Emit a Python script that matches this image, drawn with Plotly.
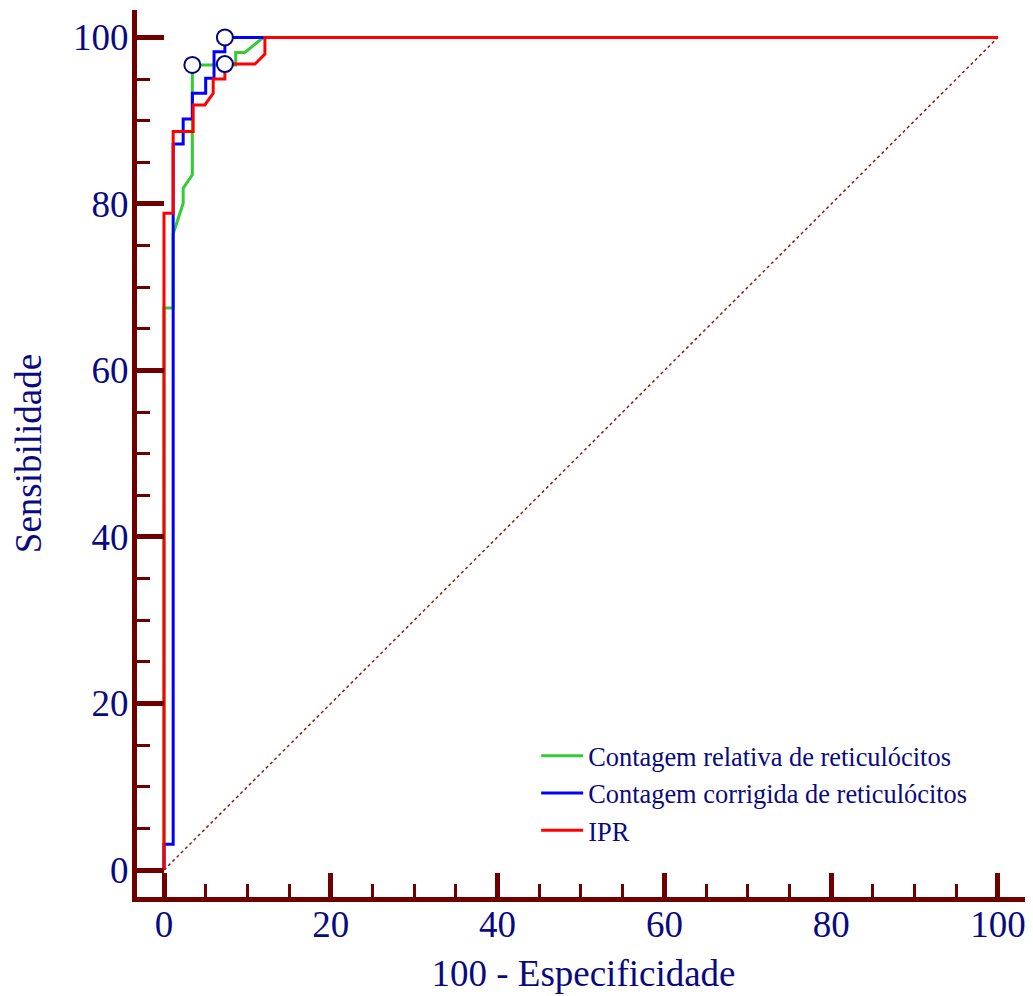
import plotly.graph_objects as go

# ---- data ----
green_name = "Contagem relativa de reticulócitos"
green_x = [0, 0, 1.1, 1.1, 2.3, 2.3, 3.4, 3.4, 8.6, 8.6, 9.7, 11.9, 100]
green_y = [0, 67.5, 67.5, 76.4, 80.1, 81.9, 83.5, 96.7, 96.7, 98.2, 98.2, 100, 100]

blue_name = "Contagem corrigida de reticulócitos"
blue_x = [0, 0, 1.1, 1.1, 2.3, 2.3, 3.4, 3.4, 5.0, 5.0, 6.0, 6.0, 7.3, 7.3, 100]
blue_y = [0, 3.1, 3.1, 87.2, 87.2, 90.2, 90.2, 93.3, 93.3, 95.1, 95.1, 98.3, 98.3, 100, 100]

red_name = "IPR"
red_x = [0, 0, 1.1, 1.1, 3.5, 3.5, 4.9, 5.9, 5.9, 7.3, 7.3, 10.9, 12.1, 12.1, 100]
red_y = [0, 78.9, 78.9, 88.7, 88.7, 91.9, 91.9, 93.3, 95.0, 95.0, 96.8, 96.8, 98.0, 100, 100]

# optimal cut-off points (green, blue, red)
opt_x = [3.4, 7.3, 7.3]
opt_y = [96.7, 100, 96.8]

diag_x = [0, 100]
diag_y = [0, 100]

x_title = "100 - Especificidade"
y_title = "Sensibilidade"

# ---- styling ----
AXC = "#6e0000"
TXT = "#0a0a80"
FONT = "Liberation Serif"

fig = go.Figure()
fig.add_trace(go.Scatter(x=diag_x, y=diag_y, mode="lines", showlegend=False,
                         line=dict(color="#8b1a1a", width=1.5, dash="dot"), hoverinfo="skip"))
fig.add_trace(go.Scatter(x=green_x, y=green_y, mode="lines", name=green_name,
                         line=dict(color="#33cc33", width=3)))
fig.add_trace(go.Scatter(x=blue_x, y=blue_y, mode="lines", name=blue_name,
                         line=dict(color="#0000ff", width=3)))
fig.add_trace(go.Scatter(x=red_x, y=red_y, mode="lines", name=red_name,
                         line=dict(color="#ff0000", width=3)))
fig.add_trace(go.Scatter(x=opt_x, y=opt_y, mode="markers", showlegend=False,
                         marker=dict(symbol="circle", size=16, color="white",
                                     line=dict(color="#000080", width=2))))

axis_common = dict(
    showgrid=False, zeroline=False, showline=True, linecolor=AXC, linewidth=5,
    ticks="inside", tickcolor=AXC, tickwidth=5, tick0=0, dtick=20,
    tickfont=dict(family=FONT, size=37, color=TXT),
    minor=dict(ticks="inside", tickcolor=AXC, tickwidth=3, ticklen=13, tick0=0, dtick=5),
)

fig.update_xaxes(**axis_common, range=[-3.237, 103.84], ticklen=24, ticklabelstandoff=-9,
                 title=dict(text=x_title, font=dict(family=FONT, size=37, color=TXT), standoff=17))
fig.update_yaxes(**axis_common, range=[-3.243, 103.30], ticklen=27, ticklabelstandoff=-4,
                 title=dict(text=y_title, font=dict(family=FONT, size=37, color=TXT), standoff=24))

# page body has an 8px margin: figure is sized/offset so the plot lands at the reference position
fig.update_layout(
    width=1025, height=988,
    margin=dict(l=129, r=3, t=2, b=99, autoexpand=False),
    paper_bgcolor="white", plot_bgcolor="white",
    font=dict(family=FONT, color=TXT),
    legend=dict(x=0.447, y=0.186, xanchor="left", yanchor="top", itemwidth=42,
                bgcolor="rgba(0,0,0,0)", font=dict(family=FONT, size=26.4, color=TXT),
                tracegroupgap=0),
)

fig.write_html("out.html")
